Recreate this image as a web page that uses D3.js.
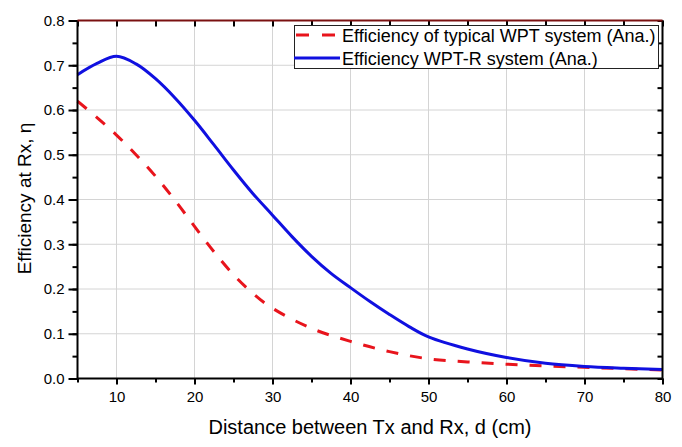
<!DOCTYPE html>
<html><head><meta charset="utf-8">
<script src="https://cdn.jsdelivr.net/npm/d3@7"></script>
<style>body{margin:0;background:#fff;} svg{display:block;font-family:"Liberation Sans",Arial,sans-serif;}</style>
</head><body>
<script>
const distance = [5,7.5,10,12.5,15,17.5,20,22.5,25,27.5,30,32.5,35,37.5,40,42.5,45,47.5,50,55,60,65,70,75,80];
const effWPTR  = [0.679,0.704,0.720,0.703,0.670,0.627,0.577,0.522,0.466,0.413,0.365,0.317,0.273,0.235,0.203,0.172,0.143,0.116,0.093,0.066,0.047,0.034,0.027,0.023,0.020];
const distTyp  = [5,7.5,10,12.5,15,17.5,20,22.5,25,27.5,30,35,40,45,50,55,60,65,70,75,80];
const effTyp   = [0.620,0.583,0.544,0.500,0.452,0.398,0.340,0.283,0.232,0.190,0.157,0.112,0.083,0.060,0.044,0.037,0.032,0.028,0.025,0.022,0.019];
const xTicks = [10,20,30,40,50,60,70,80];
const yTicks = [0.0,0.1,0.2,0.3,0.4,0.5,0.6,0.7,0.8];
const legendLabels = ["Efficiency of typical WPT system (Ana.)","Efficiency WPT-R system (Ana.)"];
const xTitle = "Distance between Tx and Rx, d (cm)";
const yTitle = "Efficiency at Rx, \u03B7";

const W=682,H=447;
const L=77.5,R=662.5,T=20.5,B=378.5;
const svg=d3.select("body").append("svg").attr("width",W).attr("height",H);
const x=d3.scaleLinear().domain([5,80]).range([L,R]);
const y=d3.scaleLinear().domain([0,0.8]).range([B,T]);

// grid
const g=svg.append("g");
g.selectAll(".gx").data(xTicks.filter(v=>v<80)).enter().append("line")
 .attr("x1",d=>x(d)).attr("x2",d=>x(d)).attr("y1",T).attr("y2",B).attr("stroke","#d4d4d4").attr("stroke-width",1);
g.selectAll(".gy").data(yTicks.filter(v=>v>0&&v<0.8)).enter().append("line")
 .attr("y1",d=>y(d)).attr("y2",d=>y(d)).attr("x1",L).attr("x2",R).attr("stroke","#d4d4d4").attr("stroke-width",1);

// curves
const line=d3.line().curve(d3.curveCatmullRom.alpha(0.5));
svg.append("path").attr("d",line(distTyp.map((d,i)=>[x(d),y(effTyp[i])])))
 .attr("fill","none").attr("stroke","#e8141c").attr("stroke-width",3).attr("stroke-dasharray","12,12");
svg.append("path").attr("d",line(distance.map((d,i)=>[x(d),y(effWPTR[i])])))
 .attr("fill","none").attr("stroke","#1010e0").attr("stroke-width",3);

// axes
const xMinor=d3.range(5,80.1,5);
const yMinor=d3.range(0,0.801,0.05);
svg.append("g").attr("transform",`translate(0,${B})`).call(d3.axisBottom(x).tickValues(xMinor).tickSize(4).tickFormat(""))
 .call(s=>s.select(".domain").remove());
svg.append("g").attr("transform",`translate(0,${B})`).call(d3.axisBottom(x).tickValues(xTicks).tickSize(6).tickPadding(7).tickFormat(d3.format("d")))
 .call(s=>s.select(".domain").remove())
 .call(s=>s.selectAll("text").attr("font-size","15px").attr("fill","#000").attr("font-family","Liberation Sans, Arial, sans-serif"));
svg.append("g").attr("transform",`translate(${L},0)`).call(d3.axisLeft(y).tickValues(yMinor).tickSize(5).tickFormat(""))
 .call(s=>s.select(".domain").remove());
svg.append("g").attr("transform",`translate(${L},0)`).call(d3.axisLeft(y).tickValues(yTicks).tickSize(9).tickPadding(4).tickFormat(d3.format(".1f")))
 .call(s=>s.select(".domain").remove())
 .call(s=>s.selectAll("text").attr("font-size","15px").attr("fill","#000").attr("font-family","Liberation Sans, Arial, sans-serif"));
// top axis (inward)
svg.append("g").attr("transform",`translate(0,${T})`).call(d3.axisBottom(x).tickValues(xMinor).tickSize(6).tickFormat(""))
 .call(s=>s.select(".domain").remove());
// right axis (inward)
svg.append("g").attr("transform",`translate(${R},0)`).call(d3.axisLeft(y).tickValues(yMinor).tickSize(5).tickFormat(""))
 .call(s=>s.select(".domain").remove());
svg.selectAll("g.tick line").attr("stroke-width",2).attr("stroke","#000");

// frame
svg.append("line").attr("x1",L).attr("x2",R).attr("y1",B).attr("y2",B).attr("stroke","#000").attr("stroke-width",2);
svg.append("line").attr("x1",L).attr("x2",L).attr("y1",T).attr("y2",B).attr("stroke","#000").attr("stroke-width",2);
svg.append("line").attr("x1",R).attr("x2",R).attr("y1",T).attr("y2",B).attr("stroke","#000").attr("stroke-width",2);
svg.append("line").attr("x1",L).attr("x2",R).attr("y1",T).attr("y2",T).attr("stroke","#7a1010").attr("stroke-width",2);

// titles
svg.append("text").attr("x",(L+R)/2).attr("y",434).attr("text-anchor","middle").attr("font-size","20px").text(xTitle);
svg.append("text").attr("transform",`translate(31,198.5) rotate(-90)`).attr("text-anchor","middle").attr("font-size","19px").text(yTitle);

// legend
const lg=svg.append("g");
lg.append("rect").attr("x",294.5).attr("y",25.5).attr("width",364).attr("height",43).attr("fill","#fff").attr("stroke","#222").attr("stroke-width",1);
const ly=[35,58];
const lb=[41.5,65];
lg.append("line").attr("x1",296).attr("x2",341).attr("y1",ly[0]).attr("y2",ly[0]).attr("stroke","#e8141c").attr("stroke-width",3).attr("stroke-dasharray","13,13");
lg.append("line").attr("x1",294).attr("x2",340).attr("y1",ly[1]).attr("y2",ly[1]).attr("stroke","#1010e0").attr("stroke-width",3);
legendLabels.forEach((t,i)=>lg.append("text").attr("x",342).attr("y",lb[i]).attr("font-size","18px").text(t));
</script>
</body></html>
